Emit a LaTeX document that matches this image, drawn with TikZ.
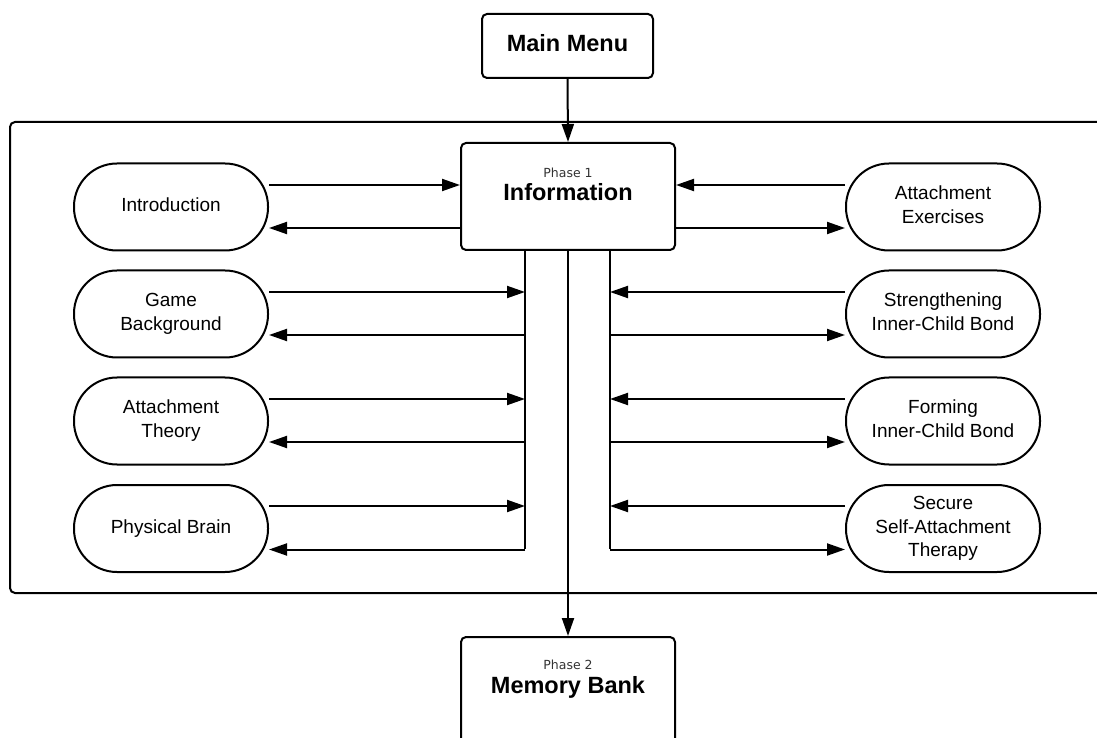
\documentclass[tikz,border=0pt]{standalone}
\usepackage{fontspec}
\setmainfont{Liberation Sans}
\newfontfamily\dejavu{DejaVu Sans}
\usetikzlibrary{arrows.meta,calc}
\begin{document}
\begin{tikzpicture}[x=1pt,y=1pt,
  line width=2pt,
  every node/.style={line width=2pt},
  phasebox/.style={draw,rectangle,rounded corners=5pt,minimum width=214pt,minimum height=107pt,inner sep=0pt},
  menubox/.style={draw,rectangle,rounded corners=5pt,minimum width=171pt,minimum height=64pt,inner sep=0pt,
    text height=17pt,text depth=6pt,font=\bfseries\fontsize{23.5}{27}\selectfont},
  pill/.style={draw,rectangle,rounded corners=43pt,minimum width=194pt,minimum height=87pt,inner sep=0pt},
  pilltext/.style={align=center,inner sep=0pt,font=\fontsize{19}{23.5}\selectfont},
  phaselabel/.style={font=\dejavu\fontsize{12.5}{14}\selectfont,text=black!80,inner sep=0pt},
  titlelabel/.style={font=\bfseries\fontsize{23.5}{27}\selectfont,inner sep=0pt},
  link/.style={-{Triangle[length=18pt,width=12pt]}},
  bus/.style={line cap=butt}
]
\useasboundingbox (0,0) rectangle (1097,737);
\clip (0,0) rectangle (1097,737);

% phase frame
\draw[rounded corners=5pt] (10,144) rectangle (1120,615);

% main boxes
\node[menubox] (menu) at (567.5,691) {Main Menu};
\node[phasebox] (info) at (568,540.5) {};
\node[phaselabel] (infophase) at (568,564) {Phase 1};
\node[titlelabel] (infotitle) at (568,545) {Information};
\node[phasebox] (mem) at (568,46.5) {};
\node[phaselabel] (memphase) at (568,72) {Phase 2};
\node[titlelabel] (memtitle) at (568,50) {Memory Bank};

% topic pills, left column
\node[pill] (intro)  at (171,530) {};
\node[pill] (game)   at (171,423) {};
\node[pill] (theory) at (171,316) {};
\node[pill] (brain)  at (171,208.5) {};
\node[pilltext] (introtext)  at (intro.center)  {\strut Introduction\strut};
\node[pilltext] (gametext)   at (game.center)   {\strut Game\\Background\strut};
\node[pilltext] (theorytext) at (theory.center) {\strut Attachment\\Theory\strut};
\node[pilltext] (braintext)  at (brain.center)  {\strut Physical Brain\strut};

% topic pills, right column
\node[pill] (exer)   at (943,530) {};
\node[pill] (stren)  at (943,423) {};
\node[pill] (form)   at (943,316) {};
\node[pill] (secure) at (943,208.5) {};
\node[pilltext] (exertext)   at (exer.center)   {\strut Attachment\\Exercises\strut};
\node[pilltext] (strentext)  at (stren.center)  {\strut Strengthening\\Inner-Child Bond\strut};
\node[pilltext] (formtext)   at (form.center)   {\strut Forming\\Inner-Child Bond\strut};
\node[pilltext] (securetext) at (secure.center) {\strut Secure\\Self-Attachment\\Therapy\strut};

% vertical flow
\draw[link] (menu.south) -- (info.north);
\draw[link] (info.south) -- (mem.north);

% first row joins the phase box directly
\draw[link] ([yshift=22pt]intro.east) -- ([yshift=22pt]intro.east -| info.west);
\draw[link] ([yshift=-21pt]intro.east -| info.west) -- ([yshift=-21pt]intro.east);
\draw[link] ([yshift=22pt]exer.west) -- ([yshift=22pt]exer.west -| info.east);
\draw[link] ([yshift=-21pt]exer.west -| info.east) -- ([yshift=-21pt]exer.west);

% side buses below the phase box
\coordinate (lbus) at ([xshift=-43pt]info.south);
\coordinate (rbus) at ([xshift=42pt]info.south);
\coordinate (lend) at ([yshift=-20.5pt]brain.east -| lbus);
\coordinate (rend) at ([yshift=-20.5pt]secure.west -| rbus);
\draw[bus] (lbus) -- (lend);
\draw[bus] (rbus) -- (rend);

\foreach \p/\up in {game/22,theory/22,brain/22.5}{
  \draw[link] ([yshift=\up pt]\p.east) -- ([yshift=\up pt]\p.east -| lbus);
  \draw[link] ([yshift=-21pt]\p.east -| lbus) -- ([yshift=-21pt]\p.east);
}
\foreach \p/\up in {stren/22,form/22,secure/22.5}{
  \draw[link] ([yshift=\up pt]\p.west) -- ([yshift=\up pt]\p.west -| rbus);
  \draw[link] ([yshift=-21pt]\p.west -| rbus) -- ([yshift=-21pt]\p.west);
}
\end{tikzpicture}
\end{document}
